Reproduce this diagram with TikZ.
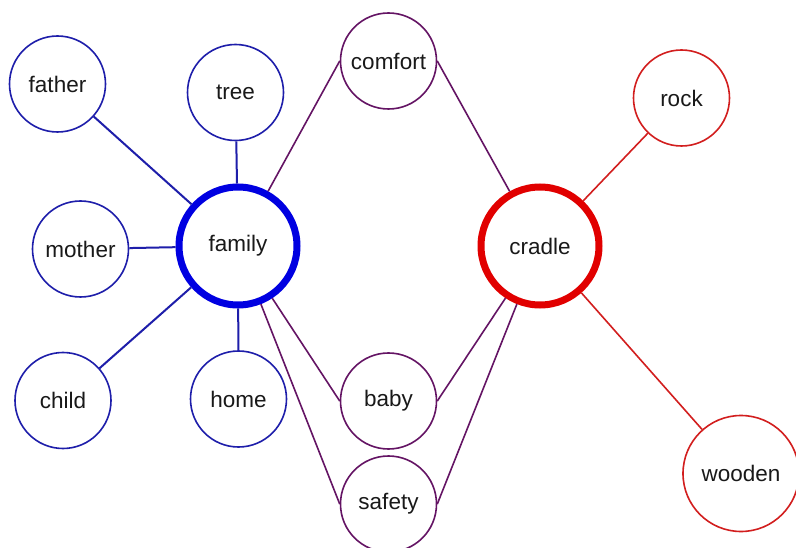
\documentclass[tikz,border=0pt]{standalone}
\usepackage{fontspec}
\setmainfont{Liberation Sans}
\definecolor{bluethin}{RGB}{30,30,170}
\definecolor{bluethick}{RGB}{0,0,225}
\definecolor{purp}{RGB}{100,20,100}
\definecolor{redthin}{RGB}{210,30,30}
\definecolor{redthick}{RGB}{225,0,0}
\tikzset{
  x=1pt, y=-1pt,
  word/.style={circle, draw, fill=white, line width=1.6pt, minimum size=96pt, inner sep=0pt, font=\fontsize{22.5}{26}\selectfont, text=black!90},
  bnode/.style={word, draw=bluethin},
  pnode/.style={word, draw=purp},
  rnode/.style={word, draw=redthin},
  hub/.style={word, line width=7pt, minimum size=118pt},
  bedge/.style={draw=bluethin, line width=2pt},
  pedge/.style={draw=purp, line width=1.6pt},
  redge/.style={draw=redthin, line width=1.6pt}
}
\begin{document}
\begin{tikzpicture}
\useasboundingbox[fill=white] (0,0) rectangle (796,548);
\node[hub, draw=bluethick] (family) at (238,246) {family};
\node[hub, draw=redthick] (cradle) at (540,246) {cradle};
\node[bnode] (father) at (57.5,84) {father};
\node[bnode] (tree) at (235.5,92.5) {tree};
\node[bnode] (mother) at (80.5,249) {mother};
\node[bnode] (child) at (63,400.5) {child};
\node[bnode] (home) at (238.5,399) {home};
\node[pnode] (comfort) at (388.5,61) {comfort};
\node[pnode] (baby) at (388.5,401) {baby};
\node[pnode] (safety) at (388.5,504) {safety};
\node[rnode] (rock) at (681.5,98) {rock};
\node[rnode, minimum size=116pt] (wooden) at (741,473.5) {wooden};
\draw[bedge] (father) -- (family);
\draw[bedge] (tree) -- (family);
\draw[bedge] (mother) -- (family);
\draw[bedge] (child) -- (family);
\draw[bedge] (home) -- (family);
\draw[pedge] (family) -- (comfort.west);
\draw[pedge] (family) -- (baby.west);
\draw[pedge] (family) -- (safety.west);
\draw[pedge] (comfort.east) -- (cradle);
\draw[pedge] (baby.east) -- (cradle);
\draw[pedge] (safety.east) -- (cradle);
\draw[redge] (cradle) -- (rock);
\draw[redge] (cradle) -- (wooden);
\end{tikzpicture}
\end{document}
